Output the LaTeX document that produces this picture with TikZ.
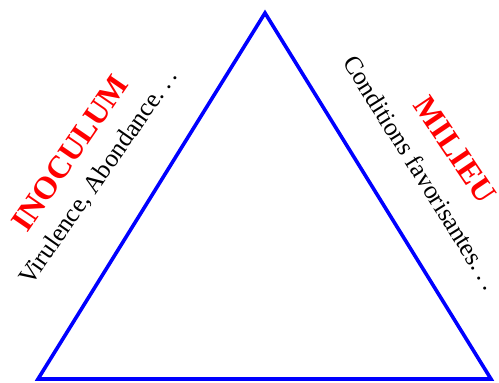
\documentclass[tikz,border=0pt]{standalone}
\usepackage{fontspec}
\setmainfont{Liberation Serif}
\newcommand{\mydots}{.\kern0.2em.\kern0.2em.}
\begin{document}
\begin{tikzpicture}[x=1pt,y=1pt,
  edge/.style={draw=blue,line width=3.6pt,line join=miter},
  title/.style={text=red,font=\fontsize{32}{36}\selectfont\bfseries,inner sep=0pt},
  sub/.style={text=black,font=\fontsize{25.5}{30}\selectfont,inner sep=0pt}]
\useasboundingbox (0,0) rectangle (499,383);
\coordinate (top) at (265,370);
\coordinate (bl) at (38,4);
\coordinate (br) at (491,4);
\draw[edge] (top) -- (bl) -- (br) -- cycle;
\node[title,rotate=55.5] (ino) at (70,230) {INOCULUM};
\node[sub,rotate=55,anchor=base west] (vir) at (31,96) {Virulence, Abondance\mydots};
\node[title,rotate=-56] (mil) at (455,233) {MILIEU};
\node[sub,rotate=-58,anchor=base west] (cond) at (342,321) {Conditions favorisantes\mydots};
\end{tikzpicture}
\end{document}
